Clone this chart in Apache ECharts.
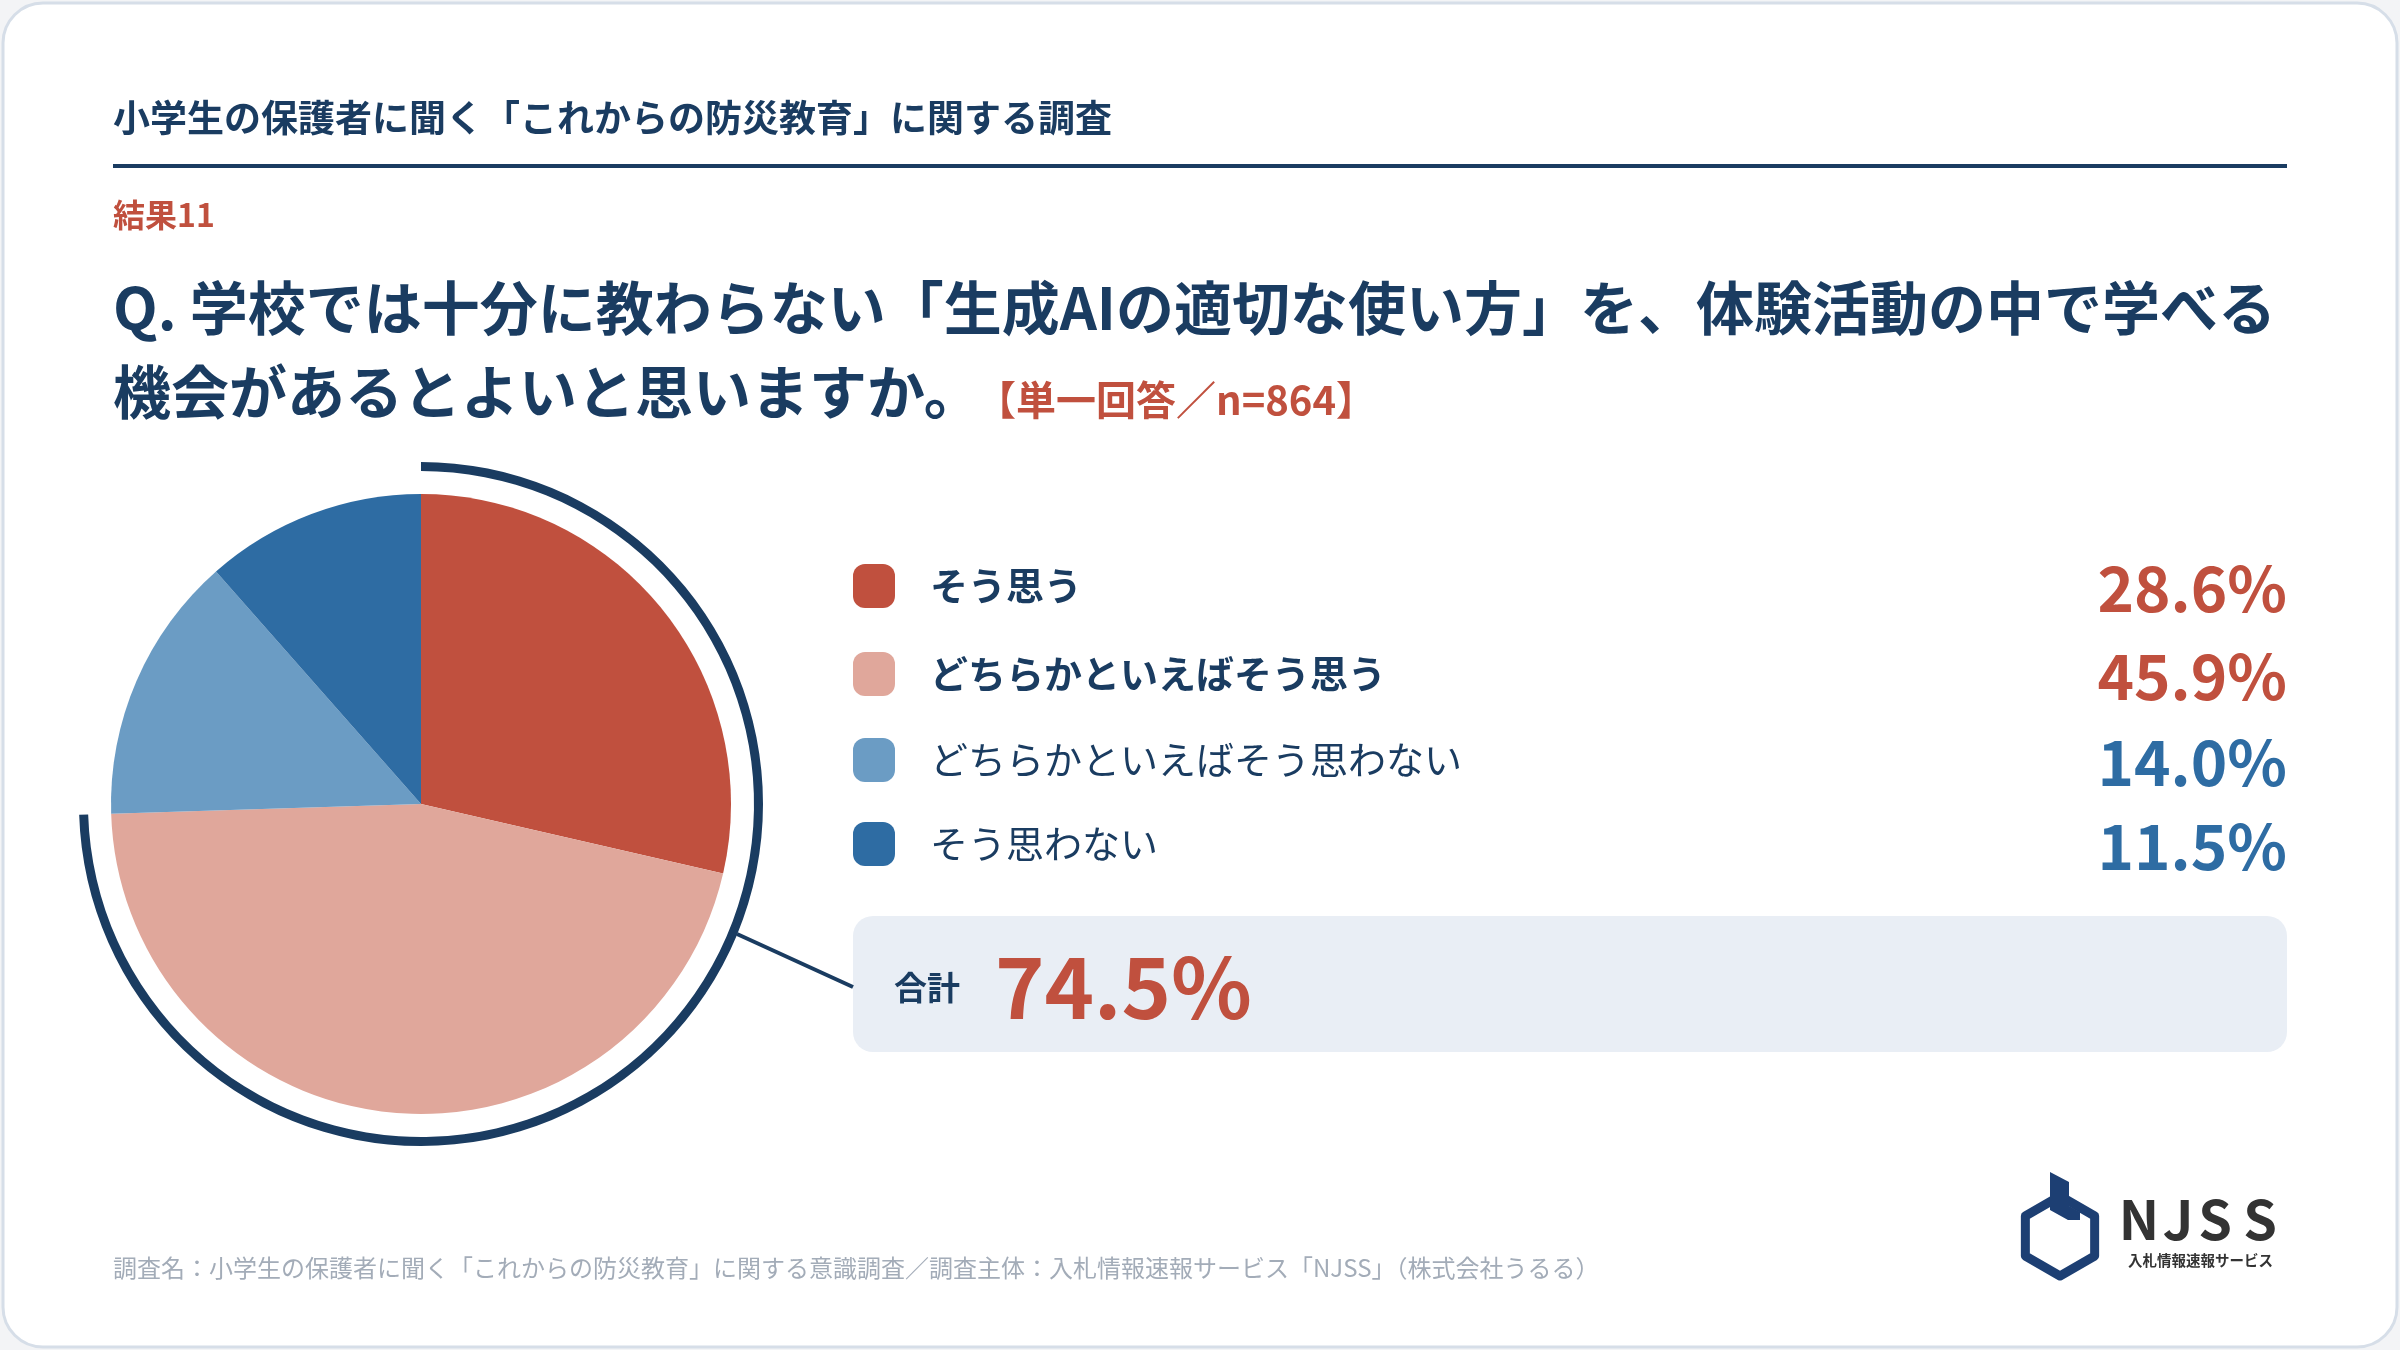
<!DOCTYPE html>
<html>
<head>
<meta charset="utf-8">
<script src="https://cdn.jsdelivr.net/npm/echarts@6/dist/echarts.min.js"></script>
<style>
html,body{margin:0;padding:0;background:#f3f4f6;}
#chart{width:2400px;height:1350px;}
</style>
</head>
<body>
<div id="chart"></div>
<script>
const categories = ['そう思う', 'どちらかといえばそう思う', 'どちらかといえばそう思わない', 'そう思わない'];
const values = [28.6, 45.9, 14.0, 11.5];
const valueLabels = ['28.6%', '45.9%', '14.0%', '11.5%'];
const totalLabel = '74.5%';
const sliceColors = ['#c0503e', '#e0a79b', '#6b9cc4', '#2e6ca3'];
const valueColors = ['#c0503e', '#c0503e', '#2e6ca3', '#2e6ca3'];
const boldLabels = [true, true, false, false];

const headerText = '小学生の保護者に聞く「これからの防災教育」に関する調査';
const resultText = '結果11';
const questionLine1 = 'Q. 学校では十分に教わらない「生成AIの適切な使い方」を、体験活動の中で学べる';
const questionLine2 = '機会があるとよいと思いますか。';
const answerNote = '【単一回答／n=864】';
const footerText = '調査名：小学生の保護者に聞く「これからの防災教育」に関する意識調査／調査主体：入札情報速報サービス「NJSS」（株式会社うるる）';

const NAVY = '#1a3c61';
const RED = '#c0503e';
const FONT = '"Noto Sans CJK JP"';

const chart = echarts.init(document.getElementById('chart'), null, {renderer: 'canvas'});

const highSum = values[0] + values[1];
const lowSum = values[2] + values[3];

const graphics = [];
// card
graphics.push({type: 'rect', z: -10, shape: {x: 3, y: 3, width: 2394, height: 1344, r: 40},
  style: {fill: '#ffffff', stroke: '#d6dee8', lineWidth: 3}});
// header
graphics.push({type: 'text', style: {text: headerText, x: 113, y: 118, fill: NAVY,
  font: 'bold 37px ' + FONT, textVerticalAlign: 'middle'}});
graphics.push({type: 'rect', shape: {x: 113, y: 164, width: 2174, height: 4}, style: {fill: NAVY}});
graphics.push({type: 'text', style: {text: resultText, x: 113, y: 215, fill: RED,
  font: 'bold 32px ' + FONT, textVerticalAlign: 'middle'}});
graphics.push({type: 'text', style: {text: questionLine1, x: 113, y: 308, fill: NAVY,
  font: 'bold 58px ' + FONT, textVerticalAlign: 'middle'}});
graphics.push({type: 'text', style: {text: questionLine2, x: 113, y: 392, fill: NAVY,
  font: 'bold 58px ' + FONT, textVerticalAlign: 'middle'}});
graphics.push({type: 'text', style: {text: answerNote, x: 976, y: 400, fill: RED,
  font: 'bold 40px ' + FONT, textVerticalAlign: 'middle'}});

// legend rows
const rowY = [586, 674, 760, 844];
categories.forEach((c, i) => {
  graphics.push({type: 'rect', shape: {x: 853, y: rowY[i] - 22, width: 42, height: 44, r: 12},
    style: {fill: sliceColors[i]}});
  graphics.push({type: 'text', style: {text: c, x: 930, y: rowY[i], fill: NAVY,
    font: (boldLabels[i] ? 'bold ' : '') + '38px ' + FONT, textVerticalAlign: 'middle'}});
  graphics.push({type: 'text', style: {text: valueLabels[i], x: 2287, y: rowY[i] + 2, fill: valueColors[i],
    font: 'bold 62px ' + FONT, textAlign: 'right', textVerticalAlign: 'middle'}});
});

// total box
graphics.push({type: 'rect', shape: {x: 853, y: 916, width: 1434, height: 136, r: 20}, style: {fill: '#e9eef5'}});
graphics.push({type: 'text', style: {text: '合計', x: 894, y: 987, fill: NAVY,
  font: 'bold 33px ' + FONT, textVerticalAlign: 'middle'}});
graphics.push({type: 'text', style: {text: totalLabel, x: 995, y: 987, fill: RED,
  font: 'bold 84px ' + FONT, textVerticalAlign: 'middle'}});
// connector
graphics.push({type: 'line', shape: {x1: 737, y1: 934, x2: 853, y2: 987}, style: {stroke: NAVY, lineWidth: 4}});

// footer
graphics.push({type: 'text', style: {text: footerText, x: 113, y: 1268, fill: '#a3acb8',
  font: '24px ' + FONT, textVerticalAlign: 'middle'}});

// logo
const LOGO = '#1d3f73';
const hx = 2060, hy = 1236, R = 40;
const hexPts = [];
for (let k = 0; k < 6; k++) {
  const a = (-90 + 60 * k) * Math.PI / 180;
  hexPts.push([hx + R * Math.cos(a), hy + R * Math.sin(a)]);
}
graphics.push({type: 'polygon', shape: {points: hexPts}, style: {fill: 'none', stroke: LOGO, lineWidth: 9, lineJoin: 'round'}});
graphics.push({type: 'polygon', shape: {points: [[2050,1172],[2069,1182],[2069,1206],[2080,1212],[2080,1220],[2068,1220],[2050,1210]]},
  style: {fill: LOGO}});
const njss = [['N', 2139], ['J', 2178], ['S', 2215], ['S', 2260]];
njss.forEach(([t, x]) => graphics.push({type: 'text', style: {text: t, x: x, y: 1219, fill: '#333333',
  font: 'bold 54px ' + FONT, textAlign: 'center', textVerticalAlign: 'middle'}}));
graphics.push({type: 'text', style: {text: '入札情報速報サービス', x: 2128, y: 1260, fill: '#333333',
  font: 'bold 14.5px ' + FONT, textVerticalAlign: 'middle'}});

const option = {
  backgroundColor: 'transparent',
  animation: false,
  graphic: graphics,
  series: [
    {
      type: 'pie',
      center: [421, 804],
      radius: [0, 310],
      startAngle: 90,
      clockwise: true,
      silent: true,
      label: {show: false},
      labelLine: {show: false},
      itemStyle: {borderWidth: 0},
      data: categories.map((c, i) => ({name: c, value: values[i], itemStyle: {color: sliceColors[i]}}))
    },
    {
      type: 'pie',
      center: [421, 804],
      radius: [333, 342],
      startAngle: 90,
      clockwise: true,
      silent: true,
      label: {show: false},
      labelLine: {show: false},
      data: [
        {name: 'high', value: highSum, itemStyle: {color: NAVY}},
        {name: 'low', value: lowSum, itemStyle: {color: 'rgba(0,0,0,0)'}}
      ]
    }
  ]
};
chart.setOption(option);
</script>
</body>
</html>
